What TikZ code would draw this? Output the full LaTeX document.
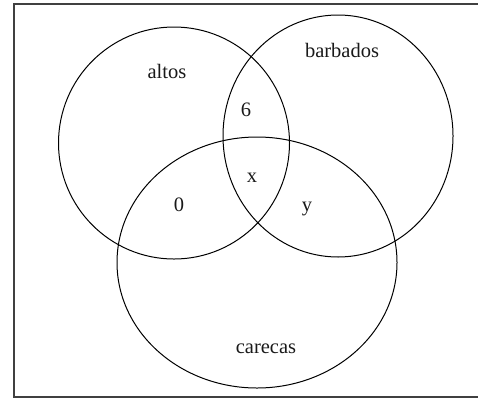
\documentclass[tikz,border=0pt]{standalone}
\usepackage{fontspec}
\setmainfont{Liberation Serif}
\begin{document}
\begin{tikzpicture}[x=1pt,y=-1pt,
  setc/.style={draw=black,line width=1pt},
  frame/.style={draw=black!75,line width=1.8pt},
  lbl/.style={anchor=base,inner sep=0pt,font=\fontsize{20.5}{24}\selectfont,text=black!90}]
\useasboundingbox (0,0) rectangle (478,399);
\draw[frame] (484,4) -- (14,4) -- (14,397) -- (484,397);
\draw[setc] (174,143) ellipse [x radius=115.5, y radius=116];
\draw[setc] (338,136) ellipse [x radius=115, y radius=121];
\draw[setc] (257,262.5) ellipse [x radius=140, y radius=125.5];
\node[lbl] (la) at (167,78) {altos};
\node[lbl] (lb) at (342,57) {barbados};
\node[lbl] (lc) at (266,353) {carecas};
\node[lbl] (n6) at (246,116) {6};
\node[lbl] (nx) at (252,182) {x};
\node[lbl] (n0) at (179,211) {0};
\node[lbl] (ny) at (307,211) {y};
\end{tikzpicture}
\end{document}
